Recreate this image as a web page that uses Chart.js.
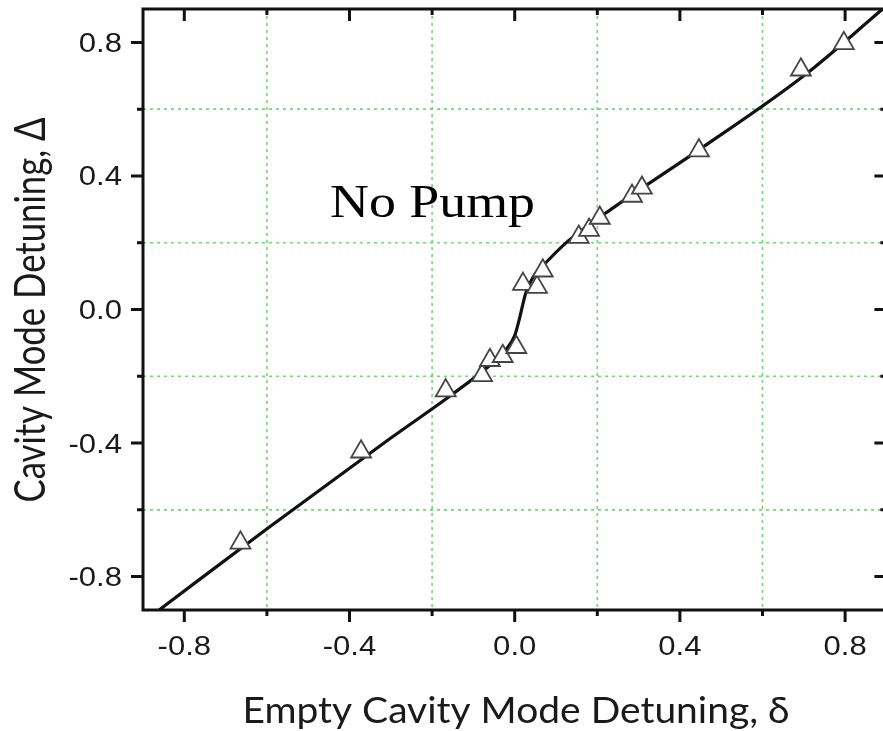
<!DOCTYPE html>
<html>
<head>
<meta charset="utf-8">
<script src="https://cdn.jsdelivr.net/npm/chart.js@4.4.1/dist/chart.umd.min.js"></script>
<style>
  html, body { margin: 0; padding: 0; background: #fff; overflow: hidden; }
  #wrap { width: 890px; height: 731px; }
</style>
</head>
<body>
<div id="wrap"><canvas id="myChart" width="890" height="731"></canvas></div>
<script>
// measured points: empty cavity detuning (delta) vs cavity mode detuning (Delta)
const deltaObs = [-0.664, -0.372, -0.167, -0.079, -0.060, -0.029, 0.004, 0.020, 0.054, 0.068, 0.155, 0.180, 0.206, 0.284, 0.308, 0.446, 0.693, 0.797]
const DeltaObs = [-0.699, -0.426, -0.243, -0.197, -0.152, -0.140, -0.113, 0.076, 0.067, 0.116, 0.217, 0.238, 0.274, 0.340, 0.364, 0.476, 0.718, 0.797]

// the solid curve
const curveX = [-0.861, -0.598, -0.300, -0.150, -0.060, -0.020, 0.000, 0.010, 0.027, 0.045, 0.080, 0.131, 0.240, 0.446, 0.700, 0.891]
const curveY = [-0.900, -0.655, -0.385, -0.253, -0.167, -0.118, -0.078, -0.035, 0.050, 0.098, 0.146, 0.207, 0.306, 0.478, 0.700, 0.900]

const majorVals = [-0.8, -0.4, 0.0, 0.4, 0.8]
const majorLabels = ['-0.8', '-0.4', '0.0', '0.4', '0.8']
const minorVals = [-0.6, -0.2, 0.2, 0.6]

const STRETCH = 1.15   // the original picture is a bit wider than tall

function fitText(ctx, txt, x, y, font, width, align) {
    ctx.save()
    ctx.font = font
    const w = ctx.measureText(txt).width
    ctx.translate(x, y)
    ctx.scale(width / w, 1)
    ctx.textAlign = align
    ctx.fillText(txt, 0, 0)
    ctx.restore()
}

function stretchText(ctx, txt, x, y, align) {
    ctx.save()
    ctx.translate(x, y)
    ctx.scale(STRETCH, 1)
    ctx.textAlign = align
    ctx.fillText(txt, 0, 0)
    ctx.restore()
}

const framePlugin = {
    id: 'framePlugin',
    beforeDatasetsDraw(chart) {
        const { ctx, chartArea: a, scales: { x, y } } = chart
        ctx.save()
        ctx.strokeStyle = '#70d870'
        ctx.lineWidth = 1.6
        ctx.setLineDash([3, 4])
        minorVals.forEach(v => {
            const px = x.getPixelForValue(v)
            const py = y.getPixelForValue(v)
            ctx.beginPath()
            ctx.moveTo(px, a.top)
            ctx.lineTo(px, a.bottom)
            ctx.stroke()
            ctx.beginPath()
            ctx.moveTo(a.left, py)
            ctx.lineTo(a.right, py)
            ctx.stroke()
        })
        ctx.restore()
    },
    afterDraw(chart) {
        const { ctx, chartArea: a, scales: { x, y } } = chart
        ctx.save()
        ctx.strokeStyle = '#111'
        ctx.lineWidth = 3
        ctx.strokeRect(a.left, a.top, a.right - a.left, a.bottom - a.top)

        // ticks: outward on bottom/left, inward on top/right
        const tick = (v, len) => {
            const px = x.getPixelForValue(v)
            const py = y.getPixelForValue(v)
            ctx.beginPath()
            ctx.moveTo(px, a.bottom); ctx.lineTo(px, a.bottom + len)
            ctx.moveTo(px, a.top); ctx.lineTo(px, a.top + len)
            ctx.moveTo(a.left, py); ctx.lineTo(a.left - len, py)
            ctx.moveTo(a.right, py); ctx.lineTo(a.right - len, py)
            ctx.stroke()
        }
        majorVals.forEach(v => tick(v, 12))
        minorVals.forEach(v => tick(v, 6))

        // tick labels
        ctx.fillStyle = '#1a1a1a'
        ctx.font = '27px "Liberation Sans", Arial, sans-serif'
        ctx.textBaseline = 'alphabetic'
        majorVals.forEach((v, i) => {
            stretchText(ctx, majorLabels[i], x.getPixelForValue(v), 655, 'center')
            stretchText(ctx, majorLabels[i], 122, y.getPixelForValue(v) + 9.5, 'right')
        })

        // axis titles
        fitText(ctx, 'Empty Cavity Mode Detuning, \u03b4', 516, 723, '37px Lato, sans-serif', 547, 'center')

        ctx.save()
        ctx.font = '37px Lato, sans-serif'
        const yt = 'Cavity Mode Detuning, \u0394'
        const w = ctx.measureText(yt).width
        ctx.translate(45, 310)
        ctx.rotate(-Math.PI / 2)
        ctx.scale(385 / w, STRETCH)
        ctx.textAlign = 'center'
        ctx.fillText(yt, 0, 0)
        ctx.restore()

        // annotation
        ctx.fillStyle = '#000'
        fitText(ctx, 'No Pump', 330, 217, '46px "Liberation Serif", "Times New Roman", serif', 205, 'left')
        ctx.restore()
    }
}

const ctx = document.getElementById('myChart').getContext('2d')
const myChart = new Chart(ctx, {
    type: 'scatter',
    data: {
        datasets: [
            {
                label: 'measured',
                data: deltaObs.map((v, i) => ({ x: v, y: DeltaObs[i] })),
                pointStyle: 'triangle',
                pointRadius: 11.5,
                pointBackgroundColor: '#fff',
                pointBorderColor: '#444',
                pointBorderWidth: 1.8,
                showLine: false,
            },
            {
                label: 'curve',
                type: 'line',
                data: curveX.map((v, i) => ({ x: v, y: curveY[i] })),
                borderColor: '#111',
                borderWidth: 3.2,
                pointRadius: 0,
                cubicInterpolationMode: 'monotone',
                fill: false,
            }
        ]
    },
    options: {
        responsive: false,
        animation: false,
        layout: { autoPadding: false, padding: { left: 0, top: 9, right: 3.6, bottom: 0 } },
        plugins: { legend: { display: false }, tooltip: { enabled: false } },
        scales: {
            x: {
                type: 'linear',
                min: -0.9,
                max: 0.9,
                ticks: { display: false, stepSize: 0.2 },
                grid: { display: false },
                border: { display: false },
                afterFit: s => { s.height = 121 }
            },
            y: {
                type: 'linear',
                min: -0.9,
                max: 0.9,
                ticks: { display: false, stepSize: 0.2 },
                grid: { display: false },
                border: { display: false },
                afterFit: s => { s.width = 143 }
            }
        }
    },
    plugins: [framePlugin]
})
</script>
</body>
</html>
